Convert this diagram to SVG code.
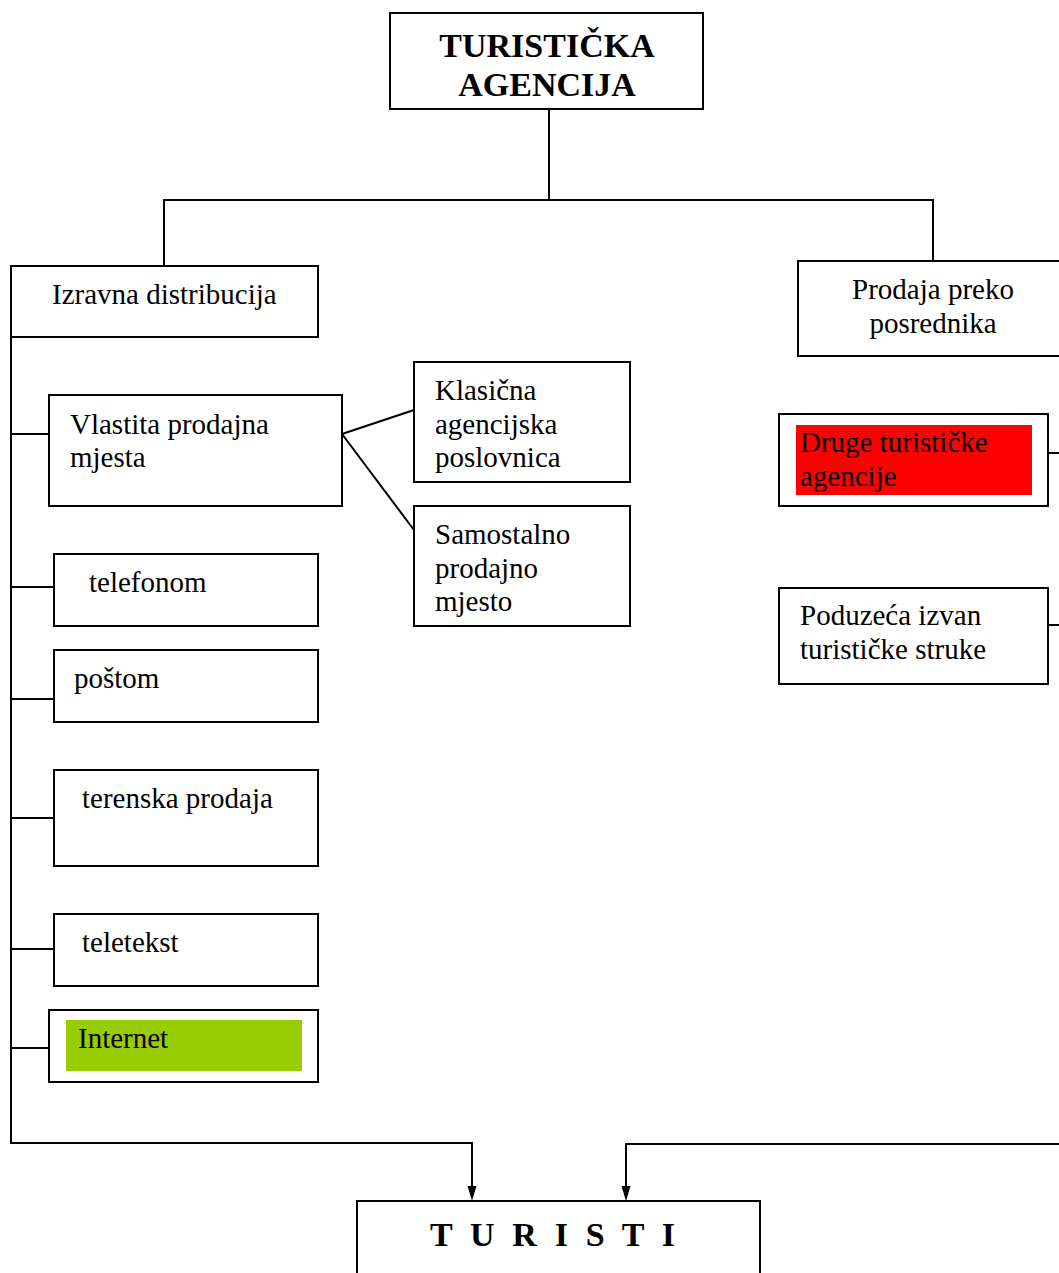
<svg xmlns="http://www.w3.org/2000/svg" width="1059" height="1273" viewBox="0 0 1059 1273">
<style>
.box{fill:#fff;stroke:#000;stroke-width:2}
.ln{fill:none;stroke:#000;stroke-width:2}
.ah{fill:#000;stroke:none}
.t{font-family:"Liberation Serif","Times New Roman",serif;font-size:29px;fill:#000}
.tb{font-family:"Liberation Serif","Times New Roman",serif;font-size:34px;font-weight:bold;fill:#000}
</style>
<rect width="1059" height="1273" fill="#fff"/>
<g id="connectors">
<polyline class="ln" points="549,109 549,200"/>
<polyline class="ln" points="164,266 164,200 933,200 933,261"/>
<polyline class="ln" points="11,266 11,1143 472,1143 472,1188"/>
<polyline class="ln" points="1059,1144 626,1144 626,1188"/>
<path class="ah" d="M467.5,1186 L476.5,1186 L472,1201 z"/>
<path class="ah" d="M621.5,1186 L630.5,1186 L626,1201 z"/>
<line class="ln" x1="11" y1="434" x2="49" y2="434"/>
<line class="ln" x1="11" y1="587" x2="54" y2="587"/>
<line class="ln" x1="11" y1="699" x2="54" y2="699"/>
<line class="ln" x1="11" y1="818" x2="54" y2="818"/>
<line class="ln" x1="11" y1="949" x2="54" y2="949"/>
<line class="ln" x1="11" y1="1048" x2="49" y2="1048"/>
<line class="ln" x1="342" y1="434" x2="414" y2="410"/>
<line class="ln" x1="342" y1="434" x2="414" y2="530"/>
<line class="ln" x1="1048" y1="453" x2="1059" y2="453"/>
<line class="ln" x1="1048" y1="625" x2="1059" y2="625"/>
</g>
<g id="turisticka-agencija">
<rect class="box" x="390" y="13" width="313" height="96"/>
<text class="tb" x="547" y="57" text-anchor="middle">TURISTIČKA</text>
<text class="tb" x="547" y="96" text-anchor="middle">AGENCIJA</text>
</g>
<g id="izravna">
<rect class="box" x="11" y="266" width="307" height="71"/>
<text class="t" x="52" y="304">Izravna distribucija</text>
</g>
<g id="vlastita">
<rect class="box" x="49" y="395" width="293" height="111"/>
<text class="t" x="70" y="434">Vlastita prodajna</text>
<text class="t" x="70" y="467">mjesta</text>
</g>
<g id="klasicna">
<rect class="box" x="414" y="362" width="216" height="120"/>
<text class="t" x="435" y="400">Klasična</text>
<text class="t" x="435" y="434">agencijska</text>
<text class="t" x="435" y="467">poslovnica</text>
</g>
<g id="samostalno">
<rect class="box" x="414" y="506" width="216" height="120"/>
<text class="t" x="435" y="544">Samostalno</text>
<text class="t" x="435" y="578">prodajno</text>
<text class="t" x="435" y="611">mjesto</text>
</g>
<g id="telefonom">
<rect class="box" x="54" y="554" width="264" height="72"/>
<text class="t" x="89" y="592">telefonom</text>
</g>
<g id="postom">
<rect class="box" x="54" y="650" width="264" height="72"/>
<text class="t" x="74" y="688">poštom</text>
</g>
<g id="terenska">
<rect class="box" x="54" y="770" width="264" height="96"/>
<text class="t" x="82" y="808">terenska prodaja</text>
</g>
<g id="teletekst">
<rect class="box" x="54" y="914" width="264" height="72"/>
<text class="t" x="82" y="952">teletekst</text>
</g>
<g id="internet">
<rect class="box" x="49" y="1010" width="269" height="72"/>
<rect x="66" y="1020" width="236" height="51" fill="#99cc00"/>
<text class="t" x="78" y="1048">Internet</text>
</g>
<g id="prodaja-preko">
<rect class="box" x="798" y="261" width="270" height="95"/>
<text class="t" x="933" y="299" text-anchor="middle">Prodaja preko</text>
<text class="t" x="933" y="333" text-anchor="middle">posrednika</text>
</g>
<g id="druge">
<rect class="box" x="779" y="414" width="269" height="92"/>
<rect x="796" y="425" width="236" height="70" fill="#ff0000"/>
<text class="t" x="800" y="452">Druge turističke</text>
<text class="t" x="800" y="486">agencije</text>
</g>
<g id="poduzeca">
<rect class="box" x="779" y="588" width="269" height="96"/>
<text class="t" x="800" y="625">Poduzeća izvan</text>
<text class="t" x="800" y="659">turističke struke</text>
</g>
<g id="turisti">
<rect class="box" x="357" y="1201" width="403" height="90"/>
<text class="tb" x="430" y="1246" font-size="32" textLength="245" lengthAdjust="spacing">T U R I S T I</text>
</g>
</svg>
